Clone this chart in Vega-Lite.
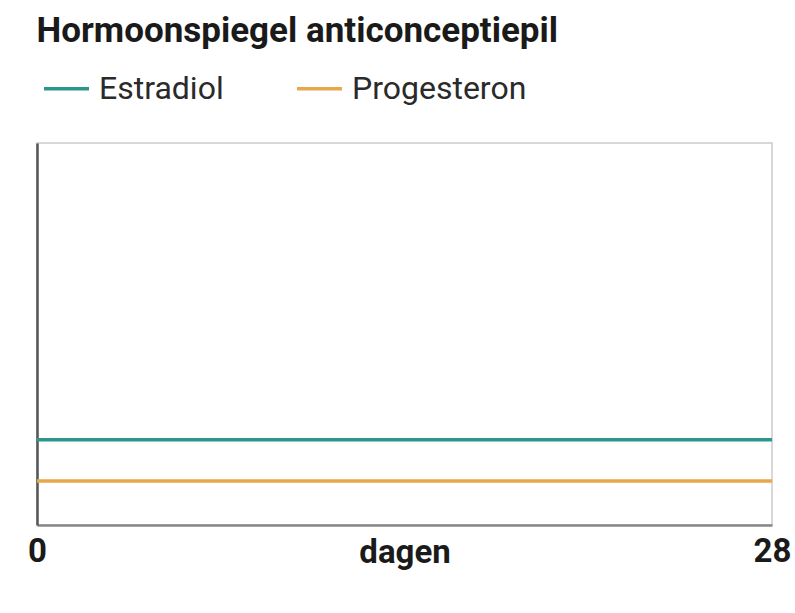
{
  "$schema": "https://vega.github.io/schema/vega-lite/v6.json",
  "autosize": "none",
  "width": 735,
  "height": 382,
  "padding": {"left": 37, "top": 143, "right": 23, "bottom": 88},
  "background": "white",
  "title": {
    "text": "Hormoonspiegel anticonceptiepil",
    "anchor": "start",
    "font": "Roboto",
    "fontSize": 35,
    "fontWeight": "bold",
    "color": "#1a1a1a",
    "offset": 15,
    "dx": 9
  },
  "config": {
    "view": {"stroke": "#cccccc", "strokeWidth": 1.5},
    "font": "Roboto"
  },
  "data": {
    "values": [
      {"dag": 0, "waarde": 22.3, "hormoon": "Estradiol"},
      {"dag": 28, "waarde": 22.3, "hormoon": "Estradiol"},
      {"dag": 0, "waarde": 11.5, "hormoon": "Progesteron"},
      {"dag": 28, "waarde": 11.5, "hormoon": "Progesteron"}
    ]
  },
  "mark": {"type": "line", "strokeWidth": 3.5},
  "encoding": {
    "x": {
      "field": "dag",
      "type": "quantitative",
      "scale": {"domain": [0, 28], "nice": false, "zero": false},
      "axis": {
        "title": "dagen",
        "titleFont": "Roboto",
        "titleFontSize": 33,
        "titleFontWeight": "bold",
        "titleColor": "#1a1a1a",
        "titleBaseline": "alphabetic",
        "titleY": 37,
        "values": [0, 28],
        "labelFont": "Roboto",
        "labelFontSize": 33,
        "labelFontWeight": "bold",
        "labelColor": "#1a1a1a",
        "labelFlush": false,
        "labelPadding": 10,
        "ticks": false,
        "grid": false,
        "domainColor": "#888888",
        "domainWidth": 2.5
      }
    },
    "y": {
      "field": "waarde",
      "type": "quantitative",
      "scale": {"domain": [0, 100], "nice": false},
      "axis": {
        "title": null,
        "labels": false,
        "ticks": false,
        "grid": false,
        "domainColor": "#555555",
        "domainWidth": 2.5
      }
    },
    "color": {
      "field": "hormoon",
      "type": "nominal",
      "scale": {"domain": ["Estradiol", "Progesteron"], "range": ["#2b968a", "#e9a74c"]},
      "legend": {
        "title": null,
        "orient": "none",
        "direction": "horizontal",
        "legendX": 5,
        "legendY": -79,
        "symbolType": "stroke",
        "symbolSize": 2025,
        "symbolStrokeWidth": 3.5,
        "labelFont": "Roboto",
        "labelFontSize": 32,
        "labelColor": "#2a2a2a",
        "labelOffset": 8,
        "columnPadding": 66,
        "labelLimit": 400
      }
    }
  }
}
